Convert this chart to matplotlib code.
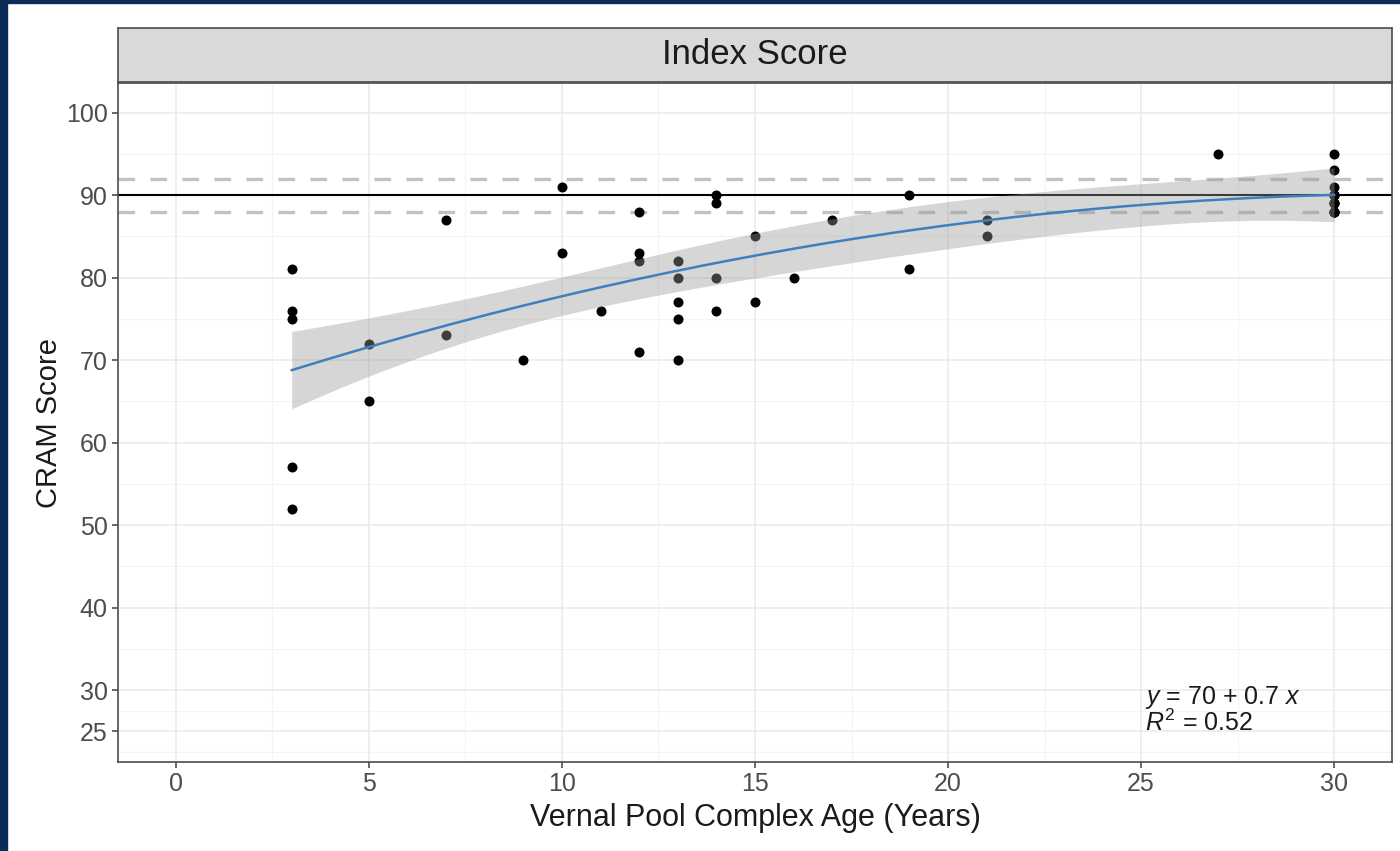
import numpy as np
import matplotlib
matplotlib.use("Agg")
import matplotlib.pyplot as plt
from matplotlib.patches import Rectangle

# ---- data (overlapping duplicates at age 30 included) ----
age = [3, 3, 3, 3, 3,
       5, 5,
       7, 7,
       9,
       10, 10,
       11,
       12, 12, 12, 12,
       13, 13, 13, 13, 13,
       14, 14, 14, 14,
       15, 15,
       16,
       17,
       19, 19,
       21, 21,
       27,
       30, 30, 30, 30, 30, 30, 30, 30, 30, 30, 30, 30, 30, 30]
score = [81, 76, 75, 57, 52,
         72, 65,
         87, 73,
         70,
         91, 83,
         76,
         88, 83, 82, 71,
         82, 80, 77, 75, 70,
         90, 89, 80, 76,
         85, 77,
         80,
         87,
         90, 81,
         87, 85,
         95,
         95, 93, 91, 90, 90, 90, 90, 89, 89, 89, 88, 88, 88, 88]
ref_line = 90
ref_band = [88, 92]
x_ticks = [0, 5, 10, 15, 20, 25, 30]
y_ticks = [25, 30, 40, 50, 60, 70, 80, 90, 100]
strip_title = "Index Score"
x_title = "Vernal Pool Complex Age (Years)"
y_title = "CRAM Score"
eq_text = r"$y$ = 70 + 0.7 $x$"
r2_text = r"$R^2$ = 0.52"

plt.rcParams['font.family'] = ['Liberation Sans', 'DejaVu Sans']
plt.rcParams['mathtext.fontset'] = 'custom'
plt.rcParams['mathtext.rm'] = 'Liberation Sans'
plt.rcParams['mathtext.it'] = 'Liberation Sans:italic'

W, H = 1400, 851
fig = plt.figure(figsize=(W / 100, H / 100), dpi=100)
fig.patch.set_facecolor('white')
navy = '#0B2C57'
fig.add_artist(Rectangle((0, 0), 7 / W, 1, transform=fig.transFigure, color=navy, zorder=0))
fig.add_artist(Rectangle((0, 1 - 3 / H), 1, 3 / H, transform=fig.transFigure, color=navy, zorder=0))

L, R, T, B = 118, 1392, 83, 762
ax = fig.add_axes([L / W, 1 - B / H, (R - L) / W, (B - T) / H])
ax.set_xlim(-1.5, 31.5)
ax.set_ylim(21.3, 103.6)

# grid
for v in [2.5, 7.5, 12.5, 17.5, 22.5, 27.5]:
    ax.axvline(v, color='#F3F3F3', lw=0.8, zorder=0)
for v in [22.5, 27.5, 35, 45, 55, 65, 75, 85, 95]:
    ax.axhline(v, color='#F3F3F3', lw=0.8, zorder=0)
for v in x_ticks:
    ax.axvline(v, color='#EBEBEB', lw=1.2, zorder=0)
for v in y_ticks:
    ax.axhline(v, color='#EBEBEB', lw=1.2, zorder=0)

# reference lines
ax.axhline(ref_line, color='black', lw=1.5, zorder=2)
for v in ref_band:
    ax.axhline(v, color='#C2C2C2', lw=2.4, ls=(0, (5.0, 4.6)), zorder=2)

# points
xa = np.array(age, float)
ya = np.array(score, float)
ax.scatter(xa, ya, s=52, color='black', zorder=3, linewidths=0)

# quadratic smooth with 95% CI
Xd = np.column_stack([np.ones_like(xa), xa, xa ** 2])
beta, *_ = np.linalg.lstsq(Xd, ya, rcond=None)
resid = ya - Xd @ beta
dof = len(xa) - 3
s2 = resid @ resid / dof
XtXi = np.linalg.inv(Xd.T @ Xd)
xs = np.linspace(xa.min(), xa.max(), 200)
Xs = np.column_stack([np.ones_like(xs), xs, xs ** 2])
fit = Xs @ beta
se = np.sqrt(np.einsum('ij,jk,ik->i', Xs, XtXi, Xs) * s2)
tq = 2.013
ax.fill_between(xs, fit - tq * se, fit + tq * se, color='#999999', alpha=0.4, lw=0, zorder=4)
ax.plot(xs, fit, color='#3F7FBF', lw=1.8, zorder=5)

# annotation
ax.text(25.1, 28.3, eq_text, fontsize=18, color='#1A1A1A', va='baseline', ha='left', zorder=6)
ax.text(25.1, 25.0, r2_text, fontsize=18, color='#1A1A1A', va='baseline', ha='left', zorder=6)

# axes styling
for sp in ax.spines.values():
    sp.set_color('#4D4D4D')
    sp.set_linewidth(1.2)
ax.set_xticks(x_ticks)
ax.set_yticks(y_ticks)
ax.tick_params(axis='both', colors='#4D4D4D', length=4.5, width=1.2, labelsize=18,
               labelcolor='#4D4D4D', pad=3)
ax.set_xlabel(x_title, fontsize=22, color='#1A1A1A', labelpad=5)
ax.set_ylabel(y_title, fontsize=21, color='#1A1A1A', labelpad=2)

# facet strip
sax = fig.add_axes([L / W, 1 - 82 / H, (R - L) / W, (82 - 28) / H])
sax.set_facecolor('#D9D9D9')
sax.set_xticks([])
sax.set_yticks([])
for sp in sax.spines.values():
    sp.set_color('#4D4D4D')
    sp.set_linewidth(1.2)
sax.text(0.5, 0.5, strip_title, transform=sax.transAxes, ha='center', va='center',
         fontsize=25, color='#1A1A1A')

fig.savefig('out.png', dpi=100)
